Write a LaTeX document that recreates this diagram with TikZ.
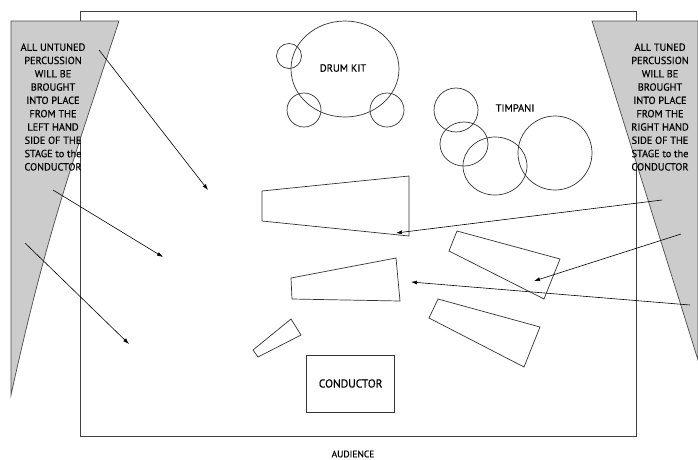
\documentclass[tikz,border=0pt]{standalone}
\usepackage{fontspec}
\setmainfont{PT Sans}[FakeBold=0.4]
\usetikzlibrary{arrows.meta}
\begin{document}
\begin{tikzpicture}[x=1pt,y=-1pt,
  line/.style={draw=black!80,line width=0.7pt},
  shade/.style={draw=black!70,fill=black!20,line width=0.7pt},
  arr/.style={draw=black,line width=0.6pt,-{Latex[length=6pt,width=4pt]}},
  lbl/.style={font=\fontsize{10.5}{13.3}\selectfont,inner sep=0pt,align=center},
  side/.style={font=\fontsize{10.3}{13.3}\selectfont,inner sep=0pt,align=center}]
\useasboundingbox (0,0) rectangle (698,459);
% stage
\draw[draw=black!75,line width=0.8pt] (80,11) rectangle (636,436);
% side wings
\path[shade] (11,21) -- (119,21) .. controls (70,170) and (45,240) .. (11,395) -- cycle;
\path[shade] (592,21) -- (698,21) -- (698,360) -- cycle;
\node[side] (lefttext) at (53,107) {ALL UNTUNED\\PERCUSSION\\WILL BE\\BROUGHT\\INTO PLACE\\FROM THE\\LEFT HAND\\SIDE OF THE\\STAGE to the\\CONDUCTOR};
\node[side] (righttext) at (660,107) {ALL TUNED\\PERCUSSION\\WILL BE\\BROUGHT\\INTO PLACE\\FROM THE\\RIGHT HAND\\SIDE OF THE\\STAGE to the\\CONDUCTOR};
% drum kit
\draw[line] (345,69) ellipse [x radius=54, y radius=48];
\draw[line] (289,56) circle (12.5);
\draw[line] (304,110) circle (17);
\draw[line] (387,110) circle (17);
\node[lbl] (drumkit) at (343,68) {DRUM KIT};
% timpani
\draw[line] (456,110) circle (22);
\draw[line] (464,144) ellipse [x radius=24, y radius=22];
\draw[line] (495,166) ellipse [x radius=32, y radius=29];
\draw[line] (555,153) circle (37);
\node[lbl] (timpani) at (515,108) {TIMPANI};
% platforms
\draw[line] (262,191) -- (409,176) -- (409,236) -- (262,221) -- cycle;
\draw[line] (291,278) -- (396,258) -- (400,301) -- (292,299) -- cycle;
\draw[line] (253,350) -- (291,319) -- (301,335) -- (258,357) -- cycle;
\draw[line] (457,231) -- (560,259) -- (544,299) -- (449,251) -- cycle;
\draw[line] (438,299) -- (540,327) -- (524,367) -- (429,318) -- cycle;
% conductor
\node[draw=black!80,line width=0.7pt,minimum width=88pt,minimum height=57pt,inner sep=0pt,font=\fontsize{11.5}{13}\selectfont] (conductor) at (350.7,383.5) {CONDUCTOR};
\node[lbl] (audience) at (353,454) {\fontsize{9.5}{11}\selectfont AUDIENCE};
% arrows
\coordinate (l1s) at (99,50);  \coordinate (l1e) at (208,190);
\coordinate (l2s) at (53,190); \coordinate (l2e) at (163,257);
\coordinate (l3s) at (25,243); \coordinate (l3e) at (129,344);
\coordinate (r1s) at (662,200); \coordinate (r1e) at (396,233);
\coordinate (r2s) at (681,234); \coordinate (r2e) at (534,281);
\coordinate (r3s) at (690,305); \coordinate (r3e) at (411,282);
\draw[arr] (l1s) -- (l1e);
\draw[arr] (l2s) -- (l2e);
\draw[arr] (l3s) -- (l3e);
\draw[arr] (r1s) -- (r1e);
\draw[arr] (r2s) -- (r2e);
\draw[arr] (r3s) -- (r3e);
\end{tikzpicture}
\end{document}
